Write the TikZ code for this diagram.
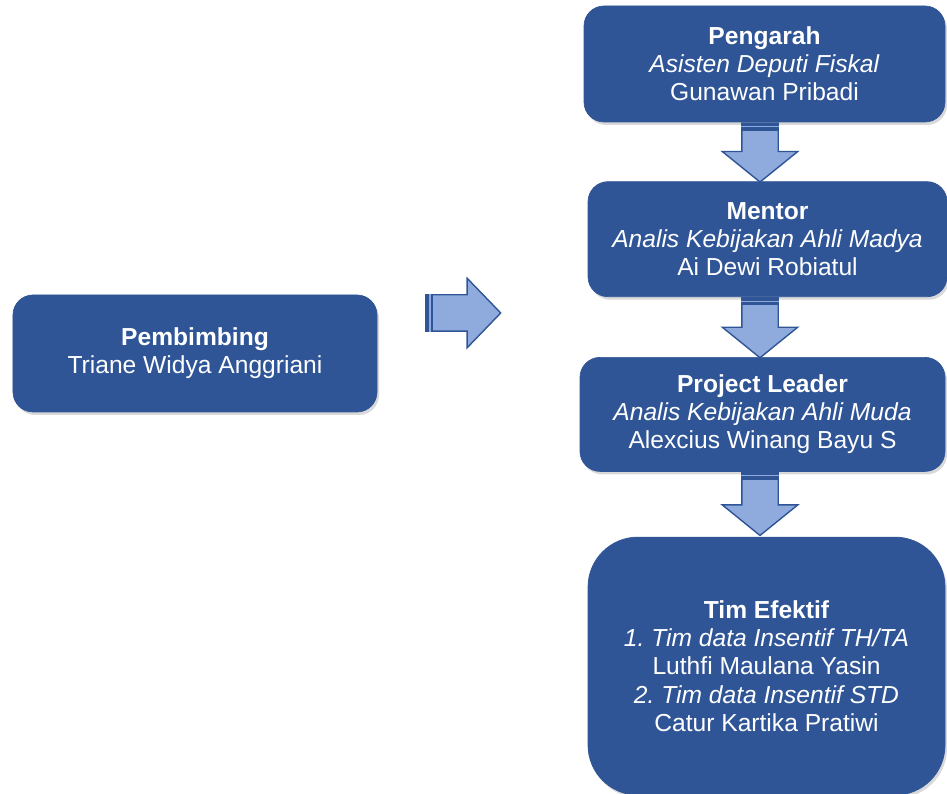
\documentclass[tikz,border=0pt]{standalone}
\usepackage{fontspec}
\setmainfont{Liberation Sans}
\usetikzlibrary{positioning,calc,shapes.arrows,shadows}
\definecolor{boxblue}{HTML}{2F5597}
\definecolor{arrowblue}{HTML}{8FAADC}
\frenchspacing
\tikzstyle{box}=[draw=boxblue, fill=boxblue, rounded corners=0.4cm, text=white, align=center, font=\fontsize{14}{16}\selectfont, drop shadow={opacity=0.3, shadow xshift=0.04cm, shadow yshift=-0.06cm}]
\tikzstyle{darrow}=[draw=boxblue, fill=arrowblue, line width=0.8pt, single arrow, rotate=-90, anchor=tail, inner xsep=0pt, inner ysep=0.35cm, single arrow head extend=0.39cm, single arrow tip angle=102]
\tikzstyle{rarrow}=[draw=boxblue, fill=arrowblue, line width=0.8pt, single arrow, anchor=tail, minimum height=1.5cm, inner xsep=0pt, inner ysep=0.35cm, single arrow head extend=0.33cm, single arrow tip angle=92]
\tikzstyle{tailbar}=[boxblue, line width=4.5pt]
\tikzstyle{tailline}=[arrowblue, line width=0.6pt]

\begin{document}
\begin{tikzpicture}
	\useasboundingbox (0,0) rectangle (18.94,15.88);

	\node[box, minimum width=7.22cm, minimum height=2.32cm] (peng) at (15.29,14.6) {\textbf{Pengarah}\\\textit{Asisten Deputi Fiskal}\\Gunawan Pribadi};
	\node[box, minimum width=7.18cm, minimum height=2.3cm] (ment) [below=1.18cm of peng, xshift=0.06cm] {\textbf{Mentor}\\\textit{Analis Kebijakan Ahli Madya}\\Ai Dewi Robiatul};
	\node[box, minimum width=7.3cm, minimum height=2.28cm] (lead) [below=1.2cm of ment, xshift=-0.1cm] {\textbf{Project Leader}\\\textit{Analis Kebijakan Ahli Muda}\\Alexcius Winang Bayu S};
	\node[box, minimum width=7.14cm, minimum height=5.16cm, rounded corners=1cm] (tim) [below=1.3cm of lead, xshift=0.08cm] {\textbf{Tim Efektif}\\\textit{1. Tim data Insentif TH/TA}\\Luthfi Maulana Yasin\\\textit{2. Tim data Insentif STD}\\Catur Kartika Pratiwi};

	\node[box, minimum width=7.28cm, minimum height=2.34cm] (pemb) at (3.9,8.81) {\textbf{Pembimbing}\\Triane Widya Anggriani};

	% block arrows
	\node[rarrow] (ra) at (8.5,9.62) {};
	\node[darrow, minimum height=1.18cm] (d1) at ($(peng.south)+(-0.09,0)$) {};
	\node[darrow, minimum height=1.2cm] (d2) at ($(ment.south)+(-0.15,0)$) {};
	\node[darrow, minimum height=1.26cm] (d3) at ($(lead.south)+(-0.05,0)$) {};

	\draw[tailbar] ([xshift=0.09cm]ra.before tail) -- ([xshift=0.09cm]ra.after tail);
	\draw[tailline] ([xshift=0.1cm]ra.before tail) -- ([xshift=0.1cm]ra.after tail);
	\foreach \a in {d1,d2,d3} {
		\draw[tailbar] ([yshift=-0.09cm]\a.before tail) -- ([yshift=-0.09cm]\a.after tail);
		\draw[tailline] ([yshift=-0.08cm]\a.before tail) -- ([yshift=-0.08cm]\a.after tail);
	}
\end{tikzpicture}
\end{document}
